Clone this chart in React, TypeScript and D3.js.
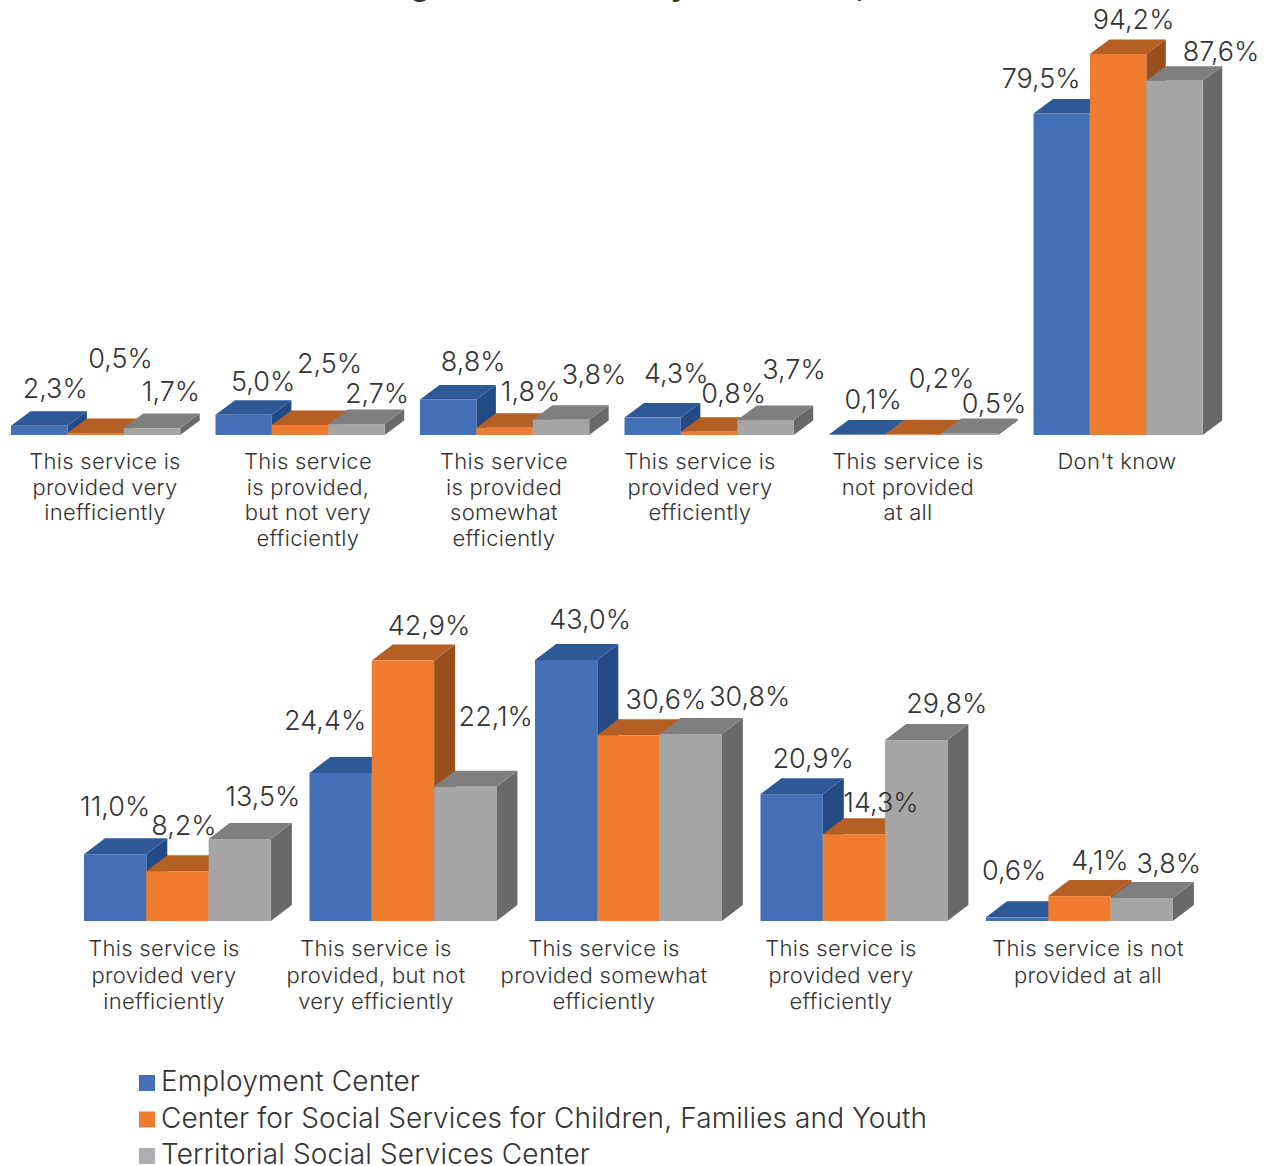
import { useRef, useEffect } from 'react';
import * as d3 from 'd3';

const seriesNames = [
  "Employment Center",
  "Center for Social Services for Children, Families and Youth",
  "Territorial Social Services Center"
];

const topCategories = [
  ["This service is", "provided very", "inefficiently"],
  ["This service", "is provided,", "but not very", "efficiently"],
  ["This service", "is provided", "somewhat", "efficiently"],
  ["This service is", "provided very", "efficiently"],
  ["This service is", "not provided", "at all"],
  ["Don't know"]
];
const topEmployment = [2.3, 5.0, 8.8, 4.3, 0.1, 79.5];
const topChildren = [0.5, 2.5, 1.8, 0.8, 0.2, 94.2];
const topTerritorial = [1.7, 2.7, 3.8, 3.7, 0.5, 87.6];

const bottomCategories = [
  ["This service is", "provided very", "inefficiently"],
  ["This service is", "provided, but not", "very efficiently"],
  ["This service is", "provided somewhat", "efficiently"],
  ["This service is", "provided very", "efficiently"],
  ["This service is not", "provided at all"]
];
const bottomEmployment = [11.0, 24.4, 43.0, 20.9, 0.6];
const bottomChildren = [8.2, 42.9, 30.6, 14.3, 4.1];
const bottomTerritorial = [13.5, 22.1, 30.8, 29.8, 3.8];

// the title is cropped by the top of the picture, only these descenders are left
const titleFragments = ["g", "y", ","];

// hand placed data labels, offset from the top centre of each bar's front face
const topNudges = [
  [[16, -28], [25, -65], [19, -27]],
  [[19.5, -24], [29.5, -52], [20.5, -21]],
  [[25, -28], [26, -27], [33, -36]],
  [[23.5, -35], [24.5, -29], [28.5, -41]],
  [[16, -26], [28, -46], [24, -20]],
  [[-20.5, -25], [15.5, -25], [46.5, -20]]
];
const bottomNudges = [
  [[0, -38], [6.5, -36], [23, -33]],
  [[-15.5, -43], [26, -26], [30.5, -61]],
  [[24, -31], [37.5, -26], [59, -28]],
  [[21.5, -26], [27, -22], [30.5, -27]],
  [[-3, -37], [20.5, -26], [27, -25]]
];

// category text is not centred on its bars in the original, offset from band start
const topCatShift = [94, 92.5, 84, 75.5, 79, 83.5];
const bottomCatShift = [80, 66.5, 69, 80.5, 102];

const frontColors = ["#4470b8", "#f07d2f", "#a5a5a5"];
const topColors = ["#2f5897", "#b55f25", "#7f7f7f"];
const sideColors = ["#234a85", "#9a4f1e", "#696969"];
const legendColors = ["#4470b8", "#f07d2f", "#adaeb2"];
const textColor = "#333333";
const fontFamily = "Inter, 'Open Sans', sans-serif";

function drawPanel(svg, cfg) {
  const { categories, values, nudges, catShift, x0, step, barW, baseline, unit, dx, dy, labelY, lineH } = cfg;
  const g = svg.append("g");

  const x = d3.scaleBand()
    .domain(d3.range(categories.length))
    .range([x0, x0 + step * categories.length])
    .paddingInner(0)
    .paddingOuter(0)
    .align(0);
  const y = d3.scaleLinear().domain([0, 100]).range([baseline, baseline - unit * 100]);

  categories.forEach((lines, c) => {
    const left = x(c);
    const group = g.append("g");

    // draw back to front so the nearer faces overlap the side of the previous bar
    values.forEach((series, s) => {
      const bx = left + s * barW;
      const top = y(series[c]);

      group.append("polygon")
        .attr("points", [[bx + barW, top], [bx + barW + dx, top - dy], [bx + barW + dx, baseline - dy], [bx + barW, baseline]].join(" "))
        .attr("fill", sideColors[s]);
      group.append("polygon")
        .attr("points", [[bx, top], [bx + dx, top - dy], [bx + barW + dx, top - dy], [bx + barW, top]].join(" "))
        .attr("fill", topColors[s]);
      group.append("rect")
        .attr("x", bx)
        .attr("y", top)
        .attr("width", barW)
        .attr("height", baseline - top)
        .attr("fill", frontColors[s]);
    });

    const catText = g.append("text")
      .attr("text-anchor", "middle")
      .attr("font-size", 22)
      .attr("font-weight", 300)
      .attr("letter-spacing", 0.3)
      .attr("fill", textColor);
    lines.forEach((line, i) => {
      catText.append("tspan")
        .attr("x", left + catShift[c])
        .attr("y", labelY + i * lineH)
        .text(line);
    });
  });

  // labels go last, some of them sit on top of neighbouring bars
  categories.forEach((_, c) => {
    values.forEach((series, s) => {
      const [nx, ny] = nudges[c][s];
      g.append("text")
        .attr("x", x(c) + s * barW + barW / 2 + nx)
        .attr("y", y(series[c]) + ny)
        .attr("text-anchor", "middle")
        .attr("font-size", 27)
        .attr("font-weight", 300)
        .attr("fill", textColor)
        .text(series[c].toFixed(1).replace(".", ",") + "%");
    });
  });
}

export default function App() {
  const svgRef = useRef<SVGSVGElement>(null);

  useEffect(() => {
    const svg = d3.select(svgRef.current);
    svg.selectAll("*").remove();
    svg.attr("font-family", fontFamily);

    const titleX = d3.scaleOrdinal().domain(titleFragments).range([420, 680, 861]);
    svg.append("g")
      .selectAll("text")
      .data(titleFragments)
      .join("text")
      .attr("x", d => titleX(d))
      .attr("y", -5)
      .attr("text-anchor", "middle")
      .attr("font-size", 32)
      .attr("font-weight", 600)
      .attr("fill", textColor)
      .text(d => d);

    drawPanel(svg, {
      categories: topCategories,
      values: [topEmployment, topChildren, topTerritorial],
      nudges: topNudges,
      catShift: topCatShift,
      x0: 11,
      step: 204.5,
      barW: 56.4,
      baseline: 435,
      unit: 4.045,
      dx: 19.5,
      dy: 14.5,
      labelY: 469,
      lineH: 25.5
    });

    drawPanel(svg, {
      categories: bottomCategories,
      values: [bottomEmployment, bottomChildren, bottomTerritorial],
      nudges: bottomNudges,
      catShift: bottomCatShift,
      x0: 84,
      step: 225.5,
      barW: 62.3,
      baseline: 921,
      unit: 6.07,
      dx: 21,
      dy: 16,
      labelY: 956,
      lineH: 26.5
    });

    const legend = svg.append("g");
    const legendY = d3.scaleLinear().domain([0, 2]).range([1083, 1156]);
    seriesNames.forEach((name, i) => {
      legend.append("rect")
        .attr("x", 139)
        .attr("y", legendY(i) - 8)
        .attr("width", 16)
        .attr("height", 16)
        .attr("fill", legendColors[i]);
      legend.append("text")
        .attr("x", 161)
        .attr("y", legendY(i) + 8)
        .attr("font-size", 28)
        .attr("font-weight", 300)
        .attr("letter-spacing", 0.12)
        .attr("fill", textColor)
        .text(name);
    });
  }, []);

  return (
    <svg
      ref={svgRef}
      width={1273}
      height={1166}
      style={{ position: 'absolute', left: 0, top: 0, background: '#fff' }}
    />
  );
}
